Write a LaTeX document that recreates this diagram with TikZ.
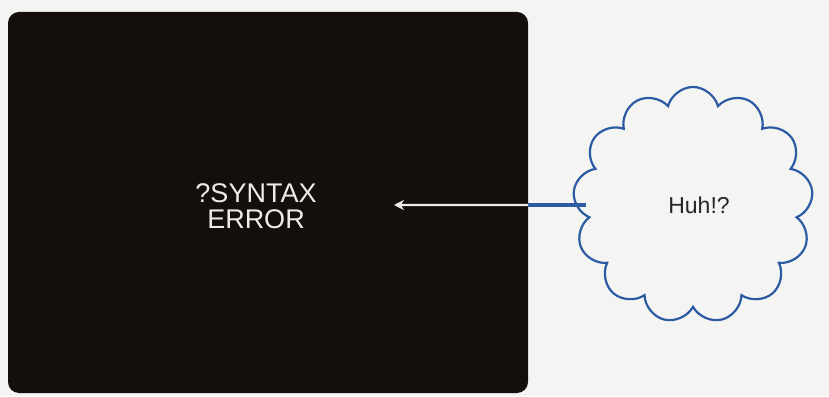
\documentclass[tikz,border=0pt]{standalone}
\usepackage{fontspec}
\setmainfont{Liberation Sans}
\usetikzlibrary{arrows.meta,shapes.symbols}

\definecolor{paper}{HTML}{F4F5F3}
\definecolor{crt}{HTML}{140F0C}
\definecolor{inkblue}{HTML}{2C5BA3}
\definecolor{glow}{HTML}{ECECEA}

\begin{document}
\begin{tikzpicture}[
            x=1pt, y=1pt,
            screen/.style={rectangle, rounded corners=11pt, fill=crt,
                                        minimum width=520pt, minimum height=381pt, inner sep=0pt},
            thought/.style={cloud, cloud puffs=13, cloud puff arc=150, aspect=1,
                                        draw=inkblue, line width=2.2pt, fill=paper,
                                        minimum width=240pt, minimum height=236pt},
            flow/.style={-{Stealth[length=10pt, width=10pt]}, draw=glow, line width=2.2pt},
            every node/.style={align=center}
        ]
        \useasboundingbox[fill=paper] (0,0) rectangle (829,396);

        % Screen with message
        \node[screen] (screen) at (268,193.5) {};
        \node[text=glow, font=\fontsize{27}{26}\selectfont] (msg) at (256,190)
            {?SYNTAX\\ERROR};

        % Thought cloud
        \node[thought, text=black!85, font=\fontsize{23}{24}\selectfont] (huh) at (693,191) {\hspace*{12pt}Huh!?};

        % Connection
        \coordinate (tip) at (394,191);
        \draw[inkblue, line width=4pt, shorten <=-11pt] (huh.west) -- (screen.east |- huh.west);
        \draw[flow] (screen.east |- huh.west) -- (tip);

        \end{tikzpicture}
\end{document}
